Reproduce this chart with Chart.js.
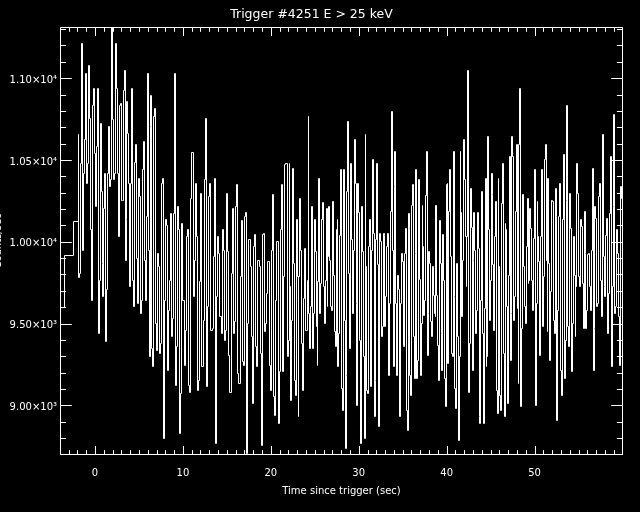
<!DOCTYPE html>
<html>
<head>
<meta charset="utf-8">
<title>Trigger #4251</title>
<script src="https://cdn.jsdelivr.net/npm/chart.js@4.4.1/dist/chart.umd.min.js"></script>
<style>
  html, body { margin: 0; padding: 0; background: #000; }
  canvas { display: block; }
</style>
</head>
<body>
<canvas id="graph_1" width="640" height="512"></canvas>
<script>

// axis ranges
var xMin = -3.98, xMax = 60.06;
var yMin = 8696, yMax = 11313;

var xTickVals = [0, 10, 20, 30, 40, 50];
var yTickVals = [9000, 9500, 10000, 10500, 11000];
var yTickLabels = ['9.00×10³', '9.50×10³', '1.00×10⁴', '1.05×10⁴', '1.10×10⁴'];

// pre-trigger coarse bins (bin start time, counts/sec)
var coarseTimes = [-4.1, -3.45, -2.47];
var coarseCounts = [9598, 9917, 10125];

// fine rate, read strip by strip (each strip spread evenly between segEdges)
var segEdges = [-1.93, 8.99, 21.97, 34.94, 47.92, 60.06];

var countsA = [
  10657, 9782, 9807, 10480, 11214, 9949, 10419, 10623, 11031, 10357,
  10480, 11075, 10751, 10072, 9643, 10831, 10935, 10541, 10215, 10582,
  10935, 9439, 9766, 10721, 10310, 9868, 9664, 10206, 10419, 9388,
  9705, 10419, 10704, 10337, 10378, 11312, 10745, 10378, 10419, 11214,
  10935, 10419, 10031, 10831, 10847, 10255, 10255, 10922, 11045, 9888,
  10133, 10857, 10663, 10357, 9725, 10357, 10935, 9766, 9603, 10484,
  10592, 9898, 9623, 10388, 10276, 9562, 9643, 10439, 10612, 9888,
  9643, 10153, 11031, 9949, 9297, 10704, 10892, 9348, 9235, 10765,
  10812, 9501, 9337, 9929, 9847, 9317, 9378, 10357, 10388, 8797,
  9643, 10133, 10102, 9215, 9582, 9766, 10174, 9419, 9531, 10174
];

var countsB = [
  11031, 9123, 9358, 10215, 10072, 8827, 9072, 10109, 9643, 9246,
  9460, 10031, 10076, 9123, 9076, 10266, 10547, 9664, 9888, 10357,
  10031, 9093, 9154, 9756, 10296, 9235, 9521, 10378, 10751, 9113,
  9603, 10276, 10357, 9460, 9470, 9909, 10388, 8766, 9664, 10031,
  9929, 9541, 9439, 10076, 9949, 9399, 9460, 10296, 9939, 9307,
  9076, 9807, 10204, 9439, 9511, 10215, 10347, 9195, 9133, 9786,
  10129, 9266, 9246, 10153, 10178, 8705, 9501, 10015, 9847, 9419,
  9011, 9970, 10045, 9358, 9235, 9888, 9847, 9317, 8756, 10045,
  10051, 9450, 9501, 9684, 9878, 9246, 9093, 9949, 10286, 9052,
  8940, 9643, 10000, 8889, 9205, 10076, 10347, 9205, 9786, 10470,
  10480, 9297
];

var countsC = [
  9399, 10480, 9725, 9031, 9521, 10449, 9868, 9154, 9062, 10133,
  9786, 8929, 9786, 10266, 9949, 9378, 9093, 9654, 9960, 9460,
  9460, 9766, 10765, 9562, 9348, 9603, 10215, 9348, 9562, 10133,
  9939, 9480, 9246, 9756, 10388, 9562, 9745, 10133, 10239, 9725,
  9501, 9766, 10204, 9603, 9909, 10215, 9888, 9603, 9582, 10245,
  9796, 9450, 9358, 10076, 10133, 9235, 9439, 10041, 10439, 9103,
  8970, 10439, 9521, 8736, 9184, 10306, 10735, 9807, 9348, 10480,
  10011, 9562, 9949, 10623, 10357, 9623, 9001, 10357, 10178, 9399,
  8766, 10215, 9939, 9297, 8797, 10657, 9847, 9093, 9072, 9970,
  10137, 9113, 9949, 10500, 10051, 8929, 9154, 10011, 10480, 9858,
  8868, 10051, 10000, 9419, 9480, 10051, 10041, 9480, 9664, 9970,
  10051, 9184, 9623, 10184, 10796, 9949, 9235, 10337, 10551, 9623,
  9184, 9796, 9705, 8929, 9623, 9929
];

var countsD = [
  9878, 9368, 9358, 9929, 10082, 8970, 8848, 10174, 10082, 9184,
  9062, 10219, 10347, 9419, 9164, 9929, 10439, 9164, 9276, 10378,
  9770, 9184, 9501, 10219, 9970, 9552, 9643, 10280, 10551, 9307,
  9562, 9939, 9864, 9511, 9419, 9847, 9674, 9562, 9541, 10219,
  9674, 9368, 9154, 10129, 9868, 9439, 9215, 10045, 9766, 9164,
  8991, 10347, 10357, 9256, 10184, 10439, 9909, 9317, 9297, 10551,
  9664, 9103, 8981, 9864, 9419, 8782, 9297, 10551, 10180, 9541,
  9888, 10623, 10378, 10031, 9725, 10031, 11045, 9076, 9378, 10327,
  10088, 9215, 9888, 10178, 9949, 9439, 9582, 10178, 9960, 8929,
  8889, 9643, 10310, 9439, 8889, 9592, 10388, 9235, 9297, 10643,
  10072, 9521, 9766, 10419, 10286, 9858, 9460, 10031, 10245, 9093,
  8950, 10388, 9847, 9062, 8970, 10235, 10480, 9317, 8929, 10113,
  10072, 9603, 9011, 9796, 10521, 9276, 9562, 10643, 10521, 9521,
  9664, 10184
];

var countsE = [
  10592, 9592, 9133, 10592, 10935, 8991, 9470, 10286, 9847, 9603,
  9501, 9970, 10266, 9745, 9766, 10204, 10082, 9766, 9582, 10021,
  10439, 9001, 9623, 10245, 10031, 9878, 9307, 10031, 10439, 9480,
  9786, 10500, 10592, 9888, 9450, 10388, 9868, 9276, 9694, 10255,
  10245, 9521, 9439, 10327, 10153, 8909, 9582, 10153, 10357, 9215,
  9062, 10133, 10531, 9164, 9399, 10255, 10831, 9480, 9358, 10296,
  10082, 9205, 9501, 10031, 9796, 9419, 9725, 10480, 10296, 9786,
  9725, 10133, 10092, 9745, 9470, 10184, 9929, 9470, 9582, 9919,
  9929, 9725, 9582, 9949, 10449, 9215, 9470, 10215, 10143, 9603,
  9623, 10276, 10357, 9766, 9541, 10657, 9909, 9725, 9664, 10041,
  10143, 9439, 9684, 10174, 10521, 9235, 9725, 10215, 10780, 9562,
  9603, 10072, 9929, 9541, 9246, 10337, 10266, 9521
];

var strips = [countsA, countsB, countsC, countsD, countsE];

// build the step points (each point = start of a bin)
var pts = [];
for (var i = 0; i < coarseTimes.length; i++) {
  pts.push({x: coarseTimes[i], y: coarseCounts[i]});
}
for (var s = 0; s < strips.length; s++) {
  var arr = strips[s];
  var t0 = segEdges[s], dt = (segEdges[s + 1] - segEdges[s]) / arr.length;
  for (var k = 0; k < arr.length; k++) {
    pts.push({x: t0 + k * dt, y: arr[k]});
  }
}
// close the last bin
pts.push({x: segEdges[segEdges.length - 1], y: countsE[countsE.length - 1]});

var FONT = 'DejaVu Sans';

// black background + IDL style box with inward ticks
var idlAxes = {
  id: 'idlAxes',
  beforeDraw: function(chart) {
    var c = chart.ctx;
    c.save();
    c.fillStyle = '#000';
    c.fillRect(0, 0, chart.width, chart.height);
    c.restore();
  },
  beforeDatasetsDraw: function(chart) {
    // snap the step corners to the pixel grid so the 1px lines stay crisp
    var meta = chart.getDatasetMeta(0);
    meta.data.forEach(function(p) {
      p.x = Math.floor(p.x) + 0.5;
      p.y = Math.floor(p.y) + 0.5;
    });
  },
  afterDraw: function(chart) {
    var c = chart.ctx;
    var a = chart.chartArea;
    var xs = chart.scales.x, ys = chart.scales.y;
    var L = a.left + 0.5, R = a.right - 0.5, T = a.top + 0.5, B = a.bottom - 0.5;
    c.save();
    c.strokeStyle = '#fff';
    c.lineWidth = 1;
    c.beginPath();
    c.moveTo(L, T); c.lineTo(R, T); c.lineTo(R, B); c.lineTo(L, B); c.closePath();

    function xTick(v, len) {
      var px = Math.round(xs.getPixelForValue(v)) + 0.5;
      c.moveTo(px, B); c.lineTo(px, B - len);
      c.moveTo(px, T); c.lineTo(px, T + len);
    }
    function yTick(v, len) {
      var py = Math.round(ys.getPixelForValue(v)) + 0.5;
      c.moveTo(L, py); c.lineTo(L + len, py);
      c.moveTo(R, py); c.lineTo(R - len, py);
    }
    for (var t = Math.ceil(xMin); t <= xMax; t++) {
      xTick(t, (t % 10 === 0) ? 8.5 : 4.3);
    }
    for (var v = 8700; v <= yMax; v += 100) {
      yTick(v, (v % 500 === 0) ? 11.3 : 5.6);
    }
    c.stroke();
    c.restore();
  }
};

var ctx = document.getElementById('graph_1');
var myChart = new Chart(ctx, {
  type: 'line',
  data: {
    datasets: [{
      label: 'Counts',
      data: pts,
      stepped: true,
      borderColor: '#fff',
      backgroundColor: '#fff',
      borderWidth: 1,
      pointRadius: 0,
      fill: false
    }]
  },
  options: {
    responsive: false,
    animation: false,
    devicePixelRatio: 1,
    layout: { padding: { left: 0, right: 17, top: 0, bottom: 0 } },
    plugins: {
      legend: { display: false },
      tooltip: { enabled: false },
      title: {
        display: true,
        text: 'Trigger #4251 E > 25 keV',
        color: '#fff',
        font: { family: FONT, size: 12.5, weight: 'normal' },
        padding: { top: 7, bottom: 5 }
      }
    },
    scales: {
      x: {
        type: 'linear',
        min: xMin,
        max: xMax,
        border: { display: false },
        grid: { display: false, drawTicks: false, tickLength: 0 },
        afterBuildTicks: function(scale) {
          scale.ticks = xTickVals.map(function(v) { return {value: v}; });
        },
        afterFit: function(scale) { scale.height = 57; },
        ticks: {
          color: '#fff',
          padding: 12,
          maxRotation: 0,
          font: { family: FONT, size: 10 },
          callback: function(v) { return String(v); }
        },
        title: {
          display: true,
          text: 'Time since trigger (sec)',
          color: '#fff',
          font: { family: FONT, size: 10 },
          padding: { top: 0, bottom: 15 }
        }
      },
      y: {
        type: 'linear',
        min: yMin,
        max: yMax,
        border: { display: false },
        grid: { display: false, drawTicks: false, tickLength: 0 },
        afterBuildTicks: function(scale) {
          scale.ticks = yTickVals.map(function(v) { return {value: v}; });
        },
        afterFit: function(scale) { scale.width = 60; },
        ticks: {
          color: '#fff',
          padding: 3,
          labelOffset: 2,
          font: { family: FONT, size: 10 },
          callback: function(v) {
            var idx = yTickVals.indexOf(v);
            return idx >= 0 ? yTickLabels[idx] : '';
          }
        },
        title: {
          display: true,
          text: 'Counts/sec',
          color: '#fff',
          font: { family: FONT, size: 10 },
          padding: { top: -7.5, bottom: 0 }
        }
      }
    }
  },
  plugins: [idlAxes]
});
</script>
</body>
</html>
